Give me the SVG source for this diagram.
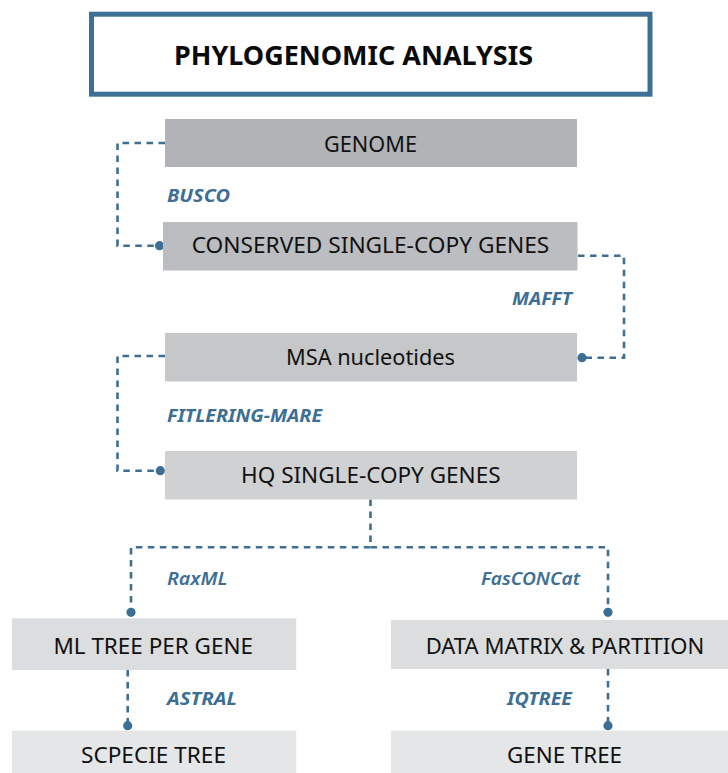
<svg xmlns="http://www.w3.org/2000/svg" width="728" height="773" viewBox="0 0 728 773">
<style>
.node text{font-family:"Noto Sans","Open Sans","Liberation Sans",sans-serif;font-size:22.4px;fill:#111;text-anchor:middle}
.lbl{font-family:"Noto Sans","Open Sans","Liberation Sans",sans-serif;font-size:18.5px;font-weight:bold;font-style:italic;fill:#3d6f95}
.conn path{fill:none;stroke:#3d6f95;stroke-width:2.6;stroke-dasharray:6.5 5.5}
</style>
<defs>
<marker id="dot" viewBox="-6 -6 12 12" markerWidth="11" markerHeight="11" markerUnits="userSpaceOnUse" refX="0" refY="0" orient="auto">
<circle cx="0" cy="0" r="5" fill="#3d6f95"/>
</marker>
</defs>
<rect width="728" height="773" fill="#fff"/>
<g id="title">
<rect x="91.5" y="14.2" width="558.5" height="80" fill="#fff" stroke="#3e7096" stroke-width="5"/>
<text x="353.5" y="65" textLength="359" lengthAdjust="spacingAndGlyphs" style="font-family:'Noto Sans','Open Sans','Liberation Sans',sans-serif;font-size:26.5px;font-weight:bold;fill:#0a0a0a" text-anchor="middle">PHYLOGENOMIC ANALYSIS</text>
</g>
<g class="conn">
<path d="M165,143 H117.5 V245.7 H159.5" marker-end="url(#dot)"/>
<path d="M578,255.7 H624 V357.7 H582" marker-end="url(#dot)"/>
<path d="M165,356 H117.5 V470.7 H160.3" marker-end="url(#dot)"/>
<path d="M370.5,499.5 V547.3 H131 V612.3" marker-end="url(#dot)"/>
<path d="M370.5,547.3 H608 V612.3" marker-end="url(#dot)"/>
<path d="M127.7,670 V725.7" marker-end="url(#dot)"/>
<path d="M608,669 V725.7" marker-end="url(#dot)"/>
</g>
<g id="genome" class="node"><rect x="165" y="119" width="412" height="48" fill="#b2b3b7"/><text x="370.5" y="152" textLength="93" lengthAdjust="spacingAndGlyphs">GENOME</text></g>
<g id="conserved" class="node"><rect x="163" y="222" width="414.5" height="48.5" fill="#bcbdc0"/><text x="370.5" y="253" textLength="357.6" lengthAdjust="spacingAndGlyphs">CONSERVED SINGLE-COPY GENES</text></g>
<g id="msa" class="node"><rect x="165" y="333" width="412" height="48.5" fill="#c6c7c9"/><text x="370.5" y="365" textLength="169" lengthAdjust="spacingAndGlyphs">MSA nucleotides</text></g>
<g id="hq" class="node"><rect x="165" y="451" width="412" height="48.5" fill="#d0d1d3"/><text x="370.8" y="483" textLength="259.5" lengthAdjust="spacingAndGlyphs">HQ SINGLE-COPY GENES</text></g>
<g id="mltree" class="node"><rect x="12" y="618.3" width="284.2" height="51.7" fill="#dcdddf"/><text x="153.2" y="654.3" textLength="199.6" lengthAdjust="spacingAndGlyphs">ML TREE PER GENE</text></g>
<g id="datamatrix" class="node"><rect x="391" y="620" width="337" height="49" fill="#dcdddf"/><text x="565" y="654" textLength="278.6" lengthAdjust="spacingAndGlyphs">DATA MATRIX &amp; PARTITION</text></g>
<g id="speciestree" class="node"><rect x="12" y="730.7" width="284.2" height="42.3" fill="#e5e6e7"/><text x="153.5" y="763.3" textLength="145" lengthAdjust="spacingAndGlyphs">SCPECIE TREE</text></g>
<g id="genetree" class="node"><rect x="391" y="730.7" width="337" height="42.3" fill="#e5e6e7"/><text x="564.5" y="763.3" textLength="115" lengthAdjust="spacingAndGlyphs">GENE TREE</text></g>
<g id="labels">
<text class="lbl" x="167" y="202" textLength="63" lengthAdjust="spacingAndGlyphs">BUSCO</text>
<text class="lbl" x="572" y="305" text-anchor="end" textLength="60" lengthAdjust="spacingAndGlyphs">MAFFT</text>
<text class="lbl" x="167" y="422" textLength="155" lengthAdjust="spacingAndGlyphs">FITLERING-MARE</text>
<text class="lbl" x="167" y="585" style="font-weight:600" textLength="60.5" lengthAdjust="spacingAndGlyphs">RaxML</text>
<text class="lbl" x="580" y="585" text-anchor="end" style="font-weight:600" textLength="99" lengthAdjust="spacingAndGlyphs">FasCONCat</text>
<text class="lbl" x="167" y="705" textLength="70" lengthAdjust="spacingAndGlyphs">ASTRAL</text>
<text class="lbl" x="572" y="705" text-anchor="end" textLength="65" lengthAdjust="spacingAndGlyphs">IQTREE</text>
</g>
</svg>
